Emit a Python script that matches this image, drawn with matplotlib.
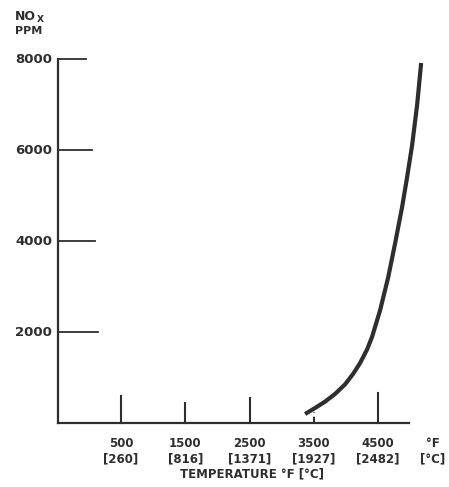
import matplotlib
matplotlib.use("Agg")
import matplotlib.pyplot as plt
import matplotlib.transforms as mtransforms

# Data
temp_f = [3364, 3519, 3675, 3831, 3986, 4111, 4220, 4329, 4407, 4531,
          4656, 4765, 4873, 4951, 5029, 5107, 5169]
nox_ppm = [198, 330, 470, 640, 850, 1080, 1320, 1620, 1900, 2480,
           3200, 3956, 4748, 5407, 6110, 7000, 7912]

xtick_f = [500, 1500, 2500, 3500, 4500]
xtick_c = ["260", "816", "1371", "1927", "2482"]
ytick_vals = [2000, 4000, 6000, 8000]

# Styles
xtick_len_px = [27, 20, 25, 11, 30]
ytick_len_px = [40, 37, 34, 28]
ink = "#2e2e2e"
W, H, DPI = 449, 487, 100

fig = plt.figure(figsize=(W / DPI, H / DPI), dpi=DPI)
ax = fig.add_axes([58 / W, 64 / H, (409 - 58) / W, (423 - 59) / H])
ax.set_xlim(-480, 4980)
ax.set_ylim(0, 8000)
for s in ["top", "right"]:
    ax.spines[s].set_visible(False)
for s in ["left", "bottom"]:
    ax.spines[s].set_color(ink)
    ax.spines[s].set_linewidth(1.6)
ax.set_xticks([])
ax.set_yticks([])

axh_px = 423 - 59
axw_px = 409 - 58
bx = mtransforms.blended_transform_factory(ax.transData, ax.transAxes)
by = mtransforms.blended_transform_factory(ax.transAxes, ax.transData)

for i, (xv, ln) in enumerate(zip(xtick_f, xtick_len_px)):
    ls = (0, (3, 2)) if xv == 3500 else "-"
    ax.plot([xv, xv], [0, ln / axh_px], transform=bx, color=ink, lw=1.5,
            ls=ls, clip_on=False)
    ax.text(xv, -14 / axh_px, f"{xv}\n[{xtick_c[i]}]", transform=bx,
            ha="center", va="top", fontsize=8.5, fontweight="bold",
            color=ink, linespacing=1.25)

for yv, ln in zip(ytick_vals, ytick_len_px):
    ax.plot([0, ln / axw_px], [yv, yv], transform=by, color=ink, lw=1.3,
            clip_on=False)
    ax.text(-6 / axw_px, yv, f"{yv}", transform=by, ha="right", va="center",
            fontsize=9.5, fontweight="bold", color=ink)

ax.plot(temp_f, nox_ppm, color=ink, lw=3, solid_capstyle="butt",
        solid_joinstyle="round", clip_on=False)

fig.text(433 / W, 1 - 437 / H, "°F\n[°C]", ha="center", va="top",
         fontsize=8.5, fontweight="bold", color=ink, linespacing=1.25)
fig.text(252 / W, 1 - 474 / H, "TEMPERATURE °F [°C]", ha="center",
         va="center", fontsize=8.5, fontweight="bold", color=ink)
fig.text(15 / W, 1 - 16 / H, "NO", ha="left", va="center", fontsize=9,
         fontweight="bold", color=ink)
fig.text(37 / W, 1 - 19 / H, "X", ha="left", va="center", fontsize=6.5,
         fontweight="bold", color=ink)
fig.text(15 / W, 1 - 31 / H, "PPM", ha="left", va="center", fontsize=8,
         fontweight="bold", color=ink)

fig.savefig("out.png", dpi=DPI)
